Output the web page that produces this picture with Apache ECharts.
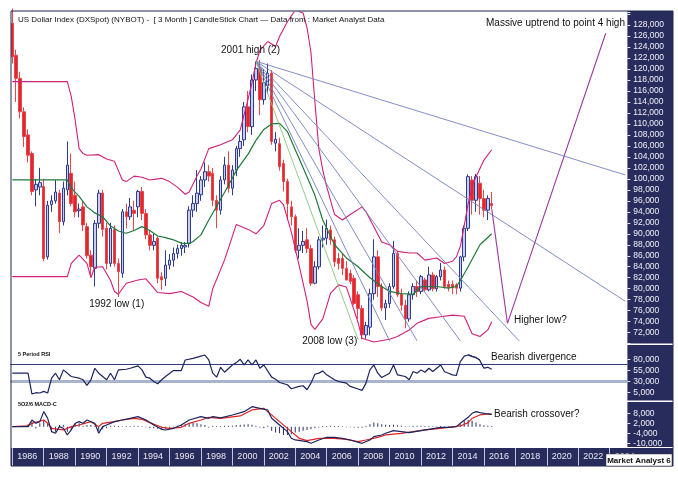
<!DOCTYPE html>
<html><head><meta charset="utf-8">
<script src="https://cdn.jsdelivr.net/npm/echarts@6/dist/echarts.min.js"></script>
<style>html,body{margin:0;padding:0;background:#fff}#c{width:678px;height:479px}</style>
</head><body><div id="c"></div>
<script>
// ---- Quarterly candles (index 0 = 1985 Q4) ----
const opens  = [128.3,122.5,118.3,112.2,108.0,104.6,98.0,98.5,98.6,85.8,95.3,96.0,97.4,92.2,98.0,101.0,97.0,94.2,94.9,91.3,86.1,83.7,91.9,97.4,91.0,84.6,90.8,84.6,82.8,94.0,93.1,94.3,94.9,97.7,93.7,89.8,87.9,89.2,82.2,81.9,84.3,85.2,86.4,87.3,87.6,88.3,94.3,95.5,97.1,99.8,101.3,101.0,96.1,94.3,99.8,102.5,98.3,101.6,105.5,107.1,113.1,109.5,118.0,120.1,114.4,117.0,119.2,106.5,106.4,102.8,99.5,94.9,93.1,87.0,87.9,88.9,87.3,81.0,84.0,88.9,89.2,90.7,88.9,85.5,85.5,83.7,82.8,81.9,78.9,76.4,71.6,73.0,79.1,85.8,80.4,76.5,77.3,80.4,86.4,79.0,77.0,74.5,78.9,80.4,79.5,81.6,79.8,82.5,80.0,82.2,83.4,80.8,80.8,80.7,80.1,85.8,91.0,99.8,96.1,99.2,96.4,94.3,95.5];
const highs  = [131.0,123.5,119.5,113.0,109.0,105.0,100.0,102.0,100.0,96.0,97.0,99.8,98.0,99.5,106.8,104.6,99.5,95.5,96.0,92.0,87.0,92.5,98.0,98.0,92.0,92.0,91.5,85.5,94.5,95.5,96.5,96.0,98.0,98.5,94.5,90.5,90.0,89.5,83.0,87.0,86.3,87.5,88.0,88.5,88.5,95.0,97.0,101.6,100.5,103.0,102.5,102.0,97.0,100.5,104.0,105.0,102.5,106.0,108.0,114.0,116.0,119.0,121.3,121.6,120.0,121.0,119.8,108.5,107.5,103.5,100.0,96.0,93.5,91.0,90.5,91.0,88.0,85.0,89.5,91.5,92.6,91.5,89.5,86.5,86.5,85.0,83.5,82.5,79.5,77.0,74.0,80.0,89.0,87.0,81.0,78.0,81.0,88.7,86.8,80.0,78.0,79.5,81.0,81.5,82.5,82.0,84.0,83.0,82.5,84.7,84.0,81.5,81.5,81.0,86.0,91.5,100.8,100.5,100.9,100.5,98.0,97.0,97.6];
const lows   = [121.0,114.0,111.0,105.8,103.0,97.0,95.0,97.0,85.0,85.3,94.0,95.5,90.1,91.5,97.0,95.0,93.0,93.0,90.5,85.5,82.2,80.4,91.0,89.5,83.5,84.0,84.0,78.5,82.0,91.0,92.5,90.5,93.0,92.5,89.0,87.0,87.0,81.0,79.8,80.5,83.5,84.0,85.5,86.0,86.5,87.5,93.0,94.0,96.0,98.5,99.5,95.0,91.0,93.5,99.0,97.5,97.0,100.5,104.0,106.0,108.5,108.0,116.0,111.6,113.5,115.5,106.2,105.0,101.5,97.7,92.5,91.5,86.5,85.5,86.5,86.5,80.5,80.8,83.5,87.5,88.0,88.0,84.0,83.5,82.5,81.5,80.8,77.0,74.5,70.8,70.9,71.5,78.0,78.5,76.0,74.3,76.5,80.0,78.5,76.0,72.8,74.0,78.0,78.5,79.0,79.5,79.5,79.5,79.5,81.5,80.0,79.5,79.0,79.0,79.5,85.0,90.5,93.5,94.0,93.5,93.0,92.5,94.5];
const closes = [122.2,118.3,112.2,107.7,104.3,97.7,99.0,99.3,85.5,95.2,96.0,97.6,92.2,98.3,102.5,95.5,94.0,94.5,91.6,86.0,84.0,91.9,97.4,90.8,84.6,91.0,84.6,83.1,94.0,93.1,94.9,93.7,97.7,93.7,89.8,87.9,88.6,81.9,81.6,84.3,85.2,86.4,87.3,87.9,87.9,94.3,95.5,97.4,99.8,101.3,100.5,96.1,94.3,99.8,102.5,98.3,101.6,105.5,106.8,113.1,109.5,118.0,120.1,114.4,117.5,119.2,106.8,107.2,102.2,99.5,95.5,93.1,87.0,87.9,88.6,87.3,81.0,84.0,88.9,89.2,91.0,88.9,84.9,84.6,83.7,81.6,81.3,77.3,76.4,71.6,73.3,79.1,85.8,80.4,76.5,77.3,80.4,86.4,78.9,77.0,74.5,78.9,80.4,79.5,82.2,79.8,82.5,80.0,82.2,83.4,80.4,80.2,80.2,80.1,85.8,91.0,100.4,96.1,100.4,96.4,94.3,96.4,95.1];

// ---- Indicator lines, [quarter index, value] ----
const upperBand = [[0,117.7],[14,117.7],[15,115.0],[16,110.7],[17,105.5],[18,104.6],[19,104.3],[22,104.4],[24,103.6],[26,103.2],[27,101.5],[28,99.8],[29,99.5],[31,100.5],[33,100.3],[35,99.8],[37,100.0],[38,100.1],[40,99.5],[42,98.5],[44,97.2],[45,97.6],[47,100.5],[48,101.8],[50,105.5],[53,106.2],[56,107.1],[58,108.9],[60,114.5],[61,117.5],[62,121.0],[63,123.4],[65,125.0],[67,124.1],[68,125.9],[70,128.6],[72,130.7],[74,130.2],[75,127.5],[76,123.0],[77,114.0],[78,105.5],[79,101.6],[80,98.6],[82,93.5],[84,92.5],[86,93.5],[89,94.9],[90,94.0],[92,91.3],[94,88.5],[96,88.0],[98,86.8],[101,86.5],[103,86.5],[105,85.2],[108,85.6],[110,84.6],[112,85.0],[113,85.8],[114,87.7],[115,91.5],[116,95.5],[117,98.5],[118,100.4],[120,103.4],[122,105.3]];
const lowerBand = [[0,82.2],[14,82.2],[15,84.6],[17,86.1],[19,84.6],[20,82.0],[21,83.9],[23,84.0],[25,81.5],[26,79.5],[27,79.0],[29,81.0],[32,81.6],[34,81.8],[37,79.3],[40,79.1],[43,79.5],[46,78.5],[48,77.5],[50,76.8],[51,80.0],[54,85.2],[57,91.7],[60,90.8],[62,90.0],[64,91.5],[66,95.5],[68,96.1],[69,95.3],[71,90.3],[73,84.2],[75,77.8],[76,73.5],[77,72.6],[79,74.5],[81,79.2],[83,80.7],[85,80.3],[86,78.2],[88,73.8],[89,71.0],[92,70.3],[96,70.8],[98,71.3],[101,72.5],[103,73.7],[106,74.6],[109,74.9],[112,75.2],[115,75.0],[117,71.8],[119,71.3],[121,72.5],[122,74.0]];
const movingAvg = [[0,99.8],[14,99.8],[15,98.3],[17,96.8],[19,94.9],[21,93.8],[23,93.1],[25,91.4],[27,90.5],[29,90.1],[31,90.6],[33,91.3],[35,90.6],[37,89.6],[39,89.3],[41,88.9],[43,88.3],[45,88.2],[46,88.6],[48,89.8],[50,92.5],[52,95.0],[55,98.8],[57,101.5],[60,104.5],[62,107.0],[64,109.0],[66,110.0],[68,110.1],[70,108.6],[72,105.3],[75,100.4],[77,97.0],[79,92.5],[82,88.0],[85,85.6],[88,84.0],[91,82.0],[94,80.4],[96,79.5],[99,79.1],[102,79.0],[104,80.4],[108,80.4],[111,80.1],[113,80.4],[114,81.5],[116,84.0],[119,88.0],[122,90.0]];
const rsi = [[0,48.8],[4,48.8],[5,2.0],[6,5.0],[7,4.3],[8,8.0],[9,4.3],[10,37.6],[11,48.8],[12,34],[13,56.2],[15,41.4],[17,37.6],[18,34],[19,21.3],[20,34],[21,59.9],[22,48.8],[24,34],[25,48.8],[26,34],[27,56.2],[29,57.7],[30,59.9],[32,65.1],[33,56.2],[34,39.9],[35,37.6],[36,30.2],[37,25],[38,34],[39,41.4],[41,54.7],[43,54.7],[44,78.5],[46,82.2],[48,87.3],[49,89.6],[50,78.5],[51,48.8],[52,39.9],[53,62],[54,51],[56,67.3],[57,72.5],[58,80],[59,67.3],[60,78.5],[61,67.3],[62,78.5],[63,59.9],[64,67.3],[66,39.9],[67,35.4],[68,28],[70,22.8],[71,13.9],[73,19.1],[74,20.6],[75,11.7],[76,26.5],[77,46.5],[78,48.8],[79,54],[80,45.1],[82,34],[83,30.2],[85,26.5],[86,19.1],[88,13.2],[89,10.2],[90,26.5],[91,56.2],[92,67.3],[93,48.8],[94,39.1],[96,48.8],[97,67.3],[98,45.1],[100,41.4],[101,34],[102,52.5],[103,48.8],[104,56.2],[105,51],[106,59.9],[107,52.5],[109,67.3],[110,52],[111,48.8],[112,45.1],[113,43.6],[114,74.7],[115,87],[116,89.6],[117,86],[118,84.4],[119,77],[120,60],[121,62],[122,57.7]];
const rsiDivergence = [[116,91],[119,79]];
const rsiLevels = [70, 30];
const macd = [[0,0],[4,0],[5,4],[6,2],[7,3],[8,9],[9,5],[10,-3],[11,-4],[12,0],[13,-1],[14,-5],[15,-2],[16,2],[17,3],[18,2],[19,4],[21,2],[22,-4],[23,0],[24,1],[26,3],[28,4],[30,5],[32,6],[34,4],[36,1],[38,-1.6],[39,-2],[41,-1],[43,1],[45,4],[48,6],[50,5],[51,6],[53,5.3],[56,7],[59,9],[61,12],[63,11],[65,10],[66,5],[68,1],[70,-3],[71,-7],[72,-8],[75,-9],[76,-10],[78,-8],[80,-6.4],[82,-6.4],[84,-7],[86,-8],[89,-10],[91,-8],[92,-6],[94,-5],[95,-4],[97,-2.4],[99,-3],[101,-3.6],[104,-2.4],[106,-1.6],[109,-0.4],[111,-0.4],[113,0],[114,2],[116,5.6],[117,8],[118,9],[119,8.4],[121,7.6],[122,7.4]];
const signal = [[0,0],[4,0.4],[5,2],[8,4],[9,2],[10,-1],[13,-2],[15,0],[17,1],[20,3],[22,0],[23,2],[26,3],[28,4],[31,5],[33,4.4],[35,2.4],[38,-0.4],[40,-1],[43,-0.4],[45,2],[48,4],[50,5.6],[53,5],[55,5.6],[58,6.4],[59,7.6],[61,10],[64,11],[65,9],[68,3],[71,-3],[73,-7],[75,-8.4],[78,-7],[82,-7],[85,-7.6],[88,-9],[90,-8],[93,-6.4],[95,-5],[99,-4],[102,-3],[105,-2],[109,-1],[111,-0.4],[114,0.4],[116,2.4],[117,5],[119,7],[121,7.6],[122,7.4]];
const histogram = [0,0,0,0,1.5,3,-1,2,4,2,-2.5,-3,1,1,-3,-2,2,2,0.5,1,1,0.5,-2.5,-1.5,-1,0.5,0.5,0.4,0.3,0.4,0.4,0.5,0.5,0.3,-0.4,-0.8,-1,-1.2,-1.4,-1.2,-0.6,-0.3,0.6,1.2,1.6,2,2.2,2,1.5,1,-0.5,0.4,0.4,0.4,0.5,0.5,0.6,1,1.2,1.3,1.5,1.2,0.5,-0.5,-1,0.5,-2.5,-3.5,-4,-5,-5,-4.5,-3.5,-3,-2.5,-2,-1.5,-1,-0.5,0.4,0.4,0.5,0.4,0.4,0.3,-0.3,-0.4,-0.5,-0.6,-0.6,0.5,1.5,2.5,2,1.5,1.2,1,1.2,0.8,0.5,0.3,0.3,0.5,0.5,0.6,0.4,0.4,0.3,0.3,0.4,0.3,0.2,0.2,0.3,1.5,3.5,4,3.5,2.5,1.5,0.8,0.5,0.4];

// ---- Drawn annotation lines (data coordinates) ----
const fanOrigin = [62, 121.4];
const fanEnds = [[156,100.7],[156,77.7],[129,70.5],[114,70.5],[103,70.5],[96,70.5]];
const fanGreenEnd = [88, 70.7];
const projection = [[122,94.5],[126,73.7],[151,126.5]];

// ---- Axis tick labels ----
const yearLabels = ['1986','1988','1990','1992','1994','1996','1998','2000','2002','2004','2006','2008','2010','2012','2014','2016','2018','2020','2022','2024'];

const NQ = 157;
const categories = [];
for (let q = 0; q < NQ; q++) { const t = 1985*4 + 3 + q; categories.push(Math.floor(t/4) + 'Q' + (t%4 + 1)); }

const NAVY = '#282c5c';
const FONT = "'Liberation Sans', Arial, sans-serif";
const fmt = v => v.toFixed(3).replace('.', ',');
const GL = 10.33, GW = 617;

const chart = echarts.init(document.getElementById('c'), null, {renderer: 'canvas'});

const yStyle = (min, max, interval, lo, hi) => ({
  type: 'value', position: 'right', min, max, interval, scale: true,
  splitLine: {show: false}, axisLine: {show: false},
  axisTick: {show: true, length: 3, lineStyle: {color: '#dfe2ef', width: 1}},
  axisLabel: {margin: 6, color: '#eef0f8', fontSize: 8.5, fontFamily: FONT,
    formatter: v => (v < lo - 1e-6 || v > hi + 1e-6) ? '' : fmt(v)}
});
const hiddenX = i => ({type: 'category', gridIndex: i, data: categories, boundaryGap: true, show: false});

const series = [];
series.push({
  type: 'candlestick', xAxisIndex: 0, yAxisIndex: 0, barWidth: 3,
  data: closes.map((c, i) => [opens[i], c, lows[i], highs[i]]),
  itemStyle: {color: '#c9d0ef', borderColor: '#2f3b8f', color0: '#e3262b', borderColor0: '#e8464a', borderWidth: 1},
  z: 3
});
const lineS = (data, color, width, xi, extra) => Object.assign({
  type: 'line', xAxisIndex: xi, yAxisIndex: xi, data, showSymbol: false, symbol: 'none',
  lineStyle: {color, width}, silent: true, animation: false
}, extra || {});
series.push(lineS(upperBand, '#d2207a', 1.1, 0, {z: 4}));
series.push(lineS(lowerBand, '#d2207a', 1.1, 0, {z: 4}));
series.push(lineS(movingAvg, '#1f7a3a', 1.2, 0, {z: 4}));
fanEnds.forEach(e => series.push(lineS([fanOrigin, e], '#7480c0', 0.9, 0, {z: 5})));
series.push(lineS([fanOrigin, fanGreenEnd], '#8cc47c', 0.9, 0, {z: 5}));
series.push(lineS(projection, '#9a3a9e', 1.1, 0, {z: 5}));
series.push(lineS(rsi, '#1c2460', 1.2, 1, {clip: false, z: 5,
  markLine: {silent: true, symbol: 'none', label: {show: false}, animation: false,
    data: [{yAxis: rsiLevels[0], lineStyle: {color: '#2e3c7c', width: 1, type: 'solid'}},
           {yAxis: rsiLevels[1], lineStyle: {color: '#a9b3cb', width: 3, type: 'solid'}}]}}));
series.push(lineS(rsiDivergence, '#1c2460', 1, 1, {clip: false, z: 5}));
series.push({type: 'bar', xAxisIndex: 2, yAxisIndex: 2, data: histogram, barWidth: 1,
  itemStyle: {color: '#2a2f66'}, silent: true, animation: false, z: 3});
series.push(lineS(signal, '#e02222', 1.2, 2, {clip: false, z: 5}));
series.push(lineS(macd, '#1c2460', 1.2, 2, {clip: false, z: 6}));

const txt = (text, x, y, font, opts) => ({
  type: 'text', z: 100, x, y,
  style: Object.assign({text, fill: '#111', font: font, textVerticalAlign: 'middle', textAlign: 'left'}, opts || {})
});
const F10 = '10px ' + FONT;

chart.setOption({
  animation: false,
  backgroundColor: '#ffffff',
  grid: [
    {left: GL, width: GW, top: 12, height: 331.65},
    {left: GL, width: GW, top: 359.3, height: 33.4},
    {left: GL, width: GW, top: 413.3, height: 30},
    {left: GL, width: GW, top: 448, height: 18}
  ],
  xAxis: [hiddenX(0), hiddenX(1), hiddenX(2), {
    type: 'category', gridIndex: 3, data: categories, boundaryGap: true, position: 'bottom',
    axisLine: {show: false},
    axisTick: {show: true, inside: true, length: 18, alignWithLabel: true, interval: i => i % 8 === 0,
      lineStyle: {color: '#c2c6db', width: 1}},
    axisLabel: {show: true, inside: true, interval: i => i % 8 === 0, margin: 9,
      align: 'left', verticalAlign: 'middle', padding: [0, 0, 0, 5],
      color: '#e6e8f2', fontSize: 9, fontFamily: FONT,
      formatter: (v, i) => yearLabels[i / 8] || ''}
  }],
  yAxis: [
    yStyle(70, 130.37, 2, 72, 128),
    yStyle(5, 80, 25, 5, 80),
    yStyle(-10, 8, 6, -10, 8),
    {type: 'value', show: false}
  ].map((a, i) => Object.assign(a, {gridIndex: i})),
  series,
  graphic: [
    {type: 'rect', z: -5, shape: {x: 627.4, y: 11, width: 45.6, height: 332.5}, style: {fill: NAVY}},
    {type: 'rect', z: -5, shape: {x: 627.4, y: 345, width: 45.6, height: 55.5}, style: {fill: NAVY}},
    {type: 'rect', z: -5, shape: {x: 627.4, y: 402, width: 45.6, height: 45}, style: {fill: NAVY}},
    {type: 'rect', z: -5, shape: {x: 11, y: 448, width: 662, height: 18}, style: {fill: NAVY}},
    {type: 'rect', z: 50, shape: {x: 11, y: 11, width: 662, height: 455}, style: {fill: null, stroke: '#23264f', lineWidth: 1}},
    txt('US Dollar Index (DXSpot) (NYBOT) -  [ 3 Month ] CandleStick Chart \u2014 Data from : Market Analyst Data', 18, 19.5, '8px ' + FONT),
    txt('2001 high (2)', 250.5, 50.5, F10, {textAlign: 'center'}),
    txt('1992 low (1)', 116.7, 304, F10, {textAlign: 'center'}),
    txt('2008 low (3)', 329.7, 341.5, F10, {textAlign: 'center'}),
    txt('Massive uptrend to point 4 high', 486, 23.5, F10),
    txt('Higher low?', 514, 320.5, F10),
    txt('Bearish divergence', 491, 357, F10),
    txt('Bearish crossover?', 494, 414.5, F10),
    txt('5 Period RSI', 18, 354.3, 'bold 5.5px ' + FONT),
    txt('5O2/6 MACD-C', 18, 404.3, 'bold 5.5px ' + FONT),
    {type: 'rect', z: 110, shape: {x: 606, y: 454, width: 66, height: 12}, style: {fill: '#ffffff', stroke: '#333', lineWidth: 0.5}},
    {type: 'text', z: 111, x: 639, y: 460.3, style: {text: 'Market Analyst 6', fill: '#111', font: 'bold 8px ' + FONT, textAlign: 'center', textVerticalAlign: 'middle'}}
  ]
});
</script>
</body></html>
